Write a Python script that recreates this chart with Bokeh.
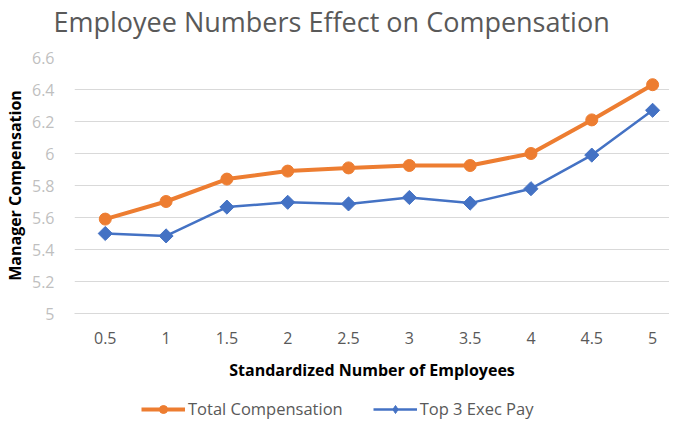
import math
from bokeh.plotting import figure
from bokeh.layouts import column
from bokeh.models import Range1d, FixedTicker, Legend, LegendItem, Title
from bokeh.embed import file_html
from bokeh.resources import INLINE

# ---- data ----
employees = [0.5, 1, 1.5, 2, 2.5, 3, 3.5, 4, 4.5, 5]
tick_labels = ["0.5", "1", "1.5", "2", "2.5", "3", "3.5", "4", "4.5", "5"]
total_comp = [5.59, 5.70, 5.84, 5.89, 5.91, 5.925, 5.925, 6.00, 6.21, 6.43]
top3_exec = [5.50, 5.485, 5.665, 5.695, 5.685, 5.725, 5.69, 5.78, 5.99, 6.27]
y_ticks = [5, 5.2, 5.4, 5.6, 5.8, 6, 6.2, 6.4, 6.6]
y_tick_labels = ["5", "5.2", "5.4", "5.6", "5.8", "6", "6.2", "6.4", "6.6"]
series_names = ["Total Compensation", "Top 3 Exec Pay"]
chart_title = "Employee Numbers Effect on Compensation"

ORANGE = "#ED7D31"
BLUE = "#4472C4"
FONT = "Open Sans"
W = 669

# ---- main chart ----
p = figure(width=W, height=398, output_backend="svg", toolbar_location=None,
           x_range=Range1d(0.247, 5.139), y_range=Range1d(5, 6.6),
           min_border_left=70, min_border_right=0, min_border_top=57,
           min_border_bottom=85)
p.outline_line_color = None

# blank spacer between the title and the plot area
p.add_layout(Title(text=" ", text_font_size="8px", standoff=5), "above")

p.title.text = chart_title
p.title.align = "left"
p.title.vertical_align = "top"
p.title.offset = -21
p.title.standoff = 0
p.title.text_font = FONT
p.title.text_font_size = "27px"
p.title.text_font_style = "normal"
p.title.text_color = "#595959"

p.xaxis.ticker = FixedTicker(ticks=employees)
p.xaxis.major_label_overrides = {t: l for t, l in zip(employees, tick_labels)}
p.yaxis.ticker = FixedTicker(ticks=y_ticks)
p.yaxis.major_label_overrides = {t: l for t, l in zip(y_ticks, y_tick_labels)}

for ax in (p.xaxis[0], p.yaxis[0]):
    ax.major_tick_line_color = None
    ax.minor_tick_line_color = None
    ax.major_label_text_font = FONT
    ax.major_label_text_font_size = "16px"
    ax.axis_label_text_font = FONT
    ax.axis_label_text_font_style = "bold"
    ax.axis_label_text_font_size = "16px"
    ax.axis_label_text_color = "#000000"

p.xaxis.axis_line_color = "#d9d9d9"
p.yaxis.axis_line_color = None
p.xaxis.major_label_text_color = "#595959"
p.yaxis.major_label_text_color = "#bfbfbf"
p.xaxis.major_label_standoff = 12
p.yaxis.major_label_standoff = 14
p.xaxis.axis_label = "Standardized Number of Employees"
p.yaxis.axis_label = "Manager Compensation"
p.xaxis.axis_label_standoff = 12
p.yaxis.axis_label_standoff = 3

p.xgrid.grid_line_color = None
p.ygrid.grid_line_color = "#d9d9d9"
p.ygrid.grid_line_width = 1
p.ygrid.ticker = FixedTicker(ticks=y_ticks)

p.line(employees, total_comp, line_color=ORANGE, line_width=4)
p.scatter(employees, total_comp, marker="circle", size=12,
          fill_color=ORANGE, line_color=ORANGE)
p.line(employees, top3_exec, line_color=BLUE, line_width=2.5)
p.scatter(employees, top3_exec, marker="square", angle=math.pi / 4, size=10,
          fill_color=BLUE, line_color=BLUE)

# ---- legend strip (its renderers lie outside its visible range) ----
lg = figure(width=W, height=22, output_backend="svg", toolbar_location=None,
            x_range=Range1d(0, 1), y_range=Range1d(0, 1),
            x_axis_type=None, y_axis_type=None,
            min_border_left=0, min_border_right=0, min_border_top=0,
            min_border_bottom=0)
lg.outline_line_color = None
lg.xgrid.visible = False
lg.ygrid.visible = False
r1 = lg.line(employees, total_comp, line_color=ORANGE, line_width=4)
m1 = lg.scatter(employees, total_comp, marker="circle", size=11,
                fill_color=ORANGE, line_color=ORANGE)
r2 = lg.line(employees, top3_exec, line_color=BLUE, line_width=2.5)
m2 = lg.scatter(employees, top3_exec, marker="diamond", size=12,
                fill_color=BLUE, line_color=BLUE)

legend = Legend(items=[
    LegendItem(label=series_names[0], renderers=[r1, m1]),
    LegendItem(label=series_names[1], renderers=[r2, m2]),
], orientation="horizontal", location=(67, 0))
legend.glyph_width = 44
legend.glyph_height = 20
legend.label_standoff = 3
legend.spacing = 30
legend.padding = 0
legend.margin = 0
legend.border_line_color = None
legend.background_fill_alpha = 0
legend.label_text_font = FONT
legend.label_text_font_size = "16.5px"
legend.label_text_color = "#595959"
lg.add_layout(legend, "center")

layout = column(p, lg, spacing=0)

open("out.html", "w").write(file_html(layout, INLINE))
